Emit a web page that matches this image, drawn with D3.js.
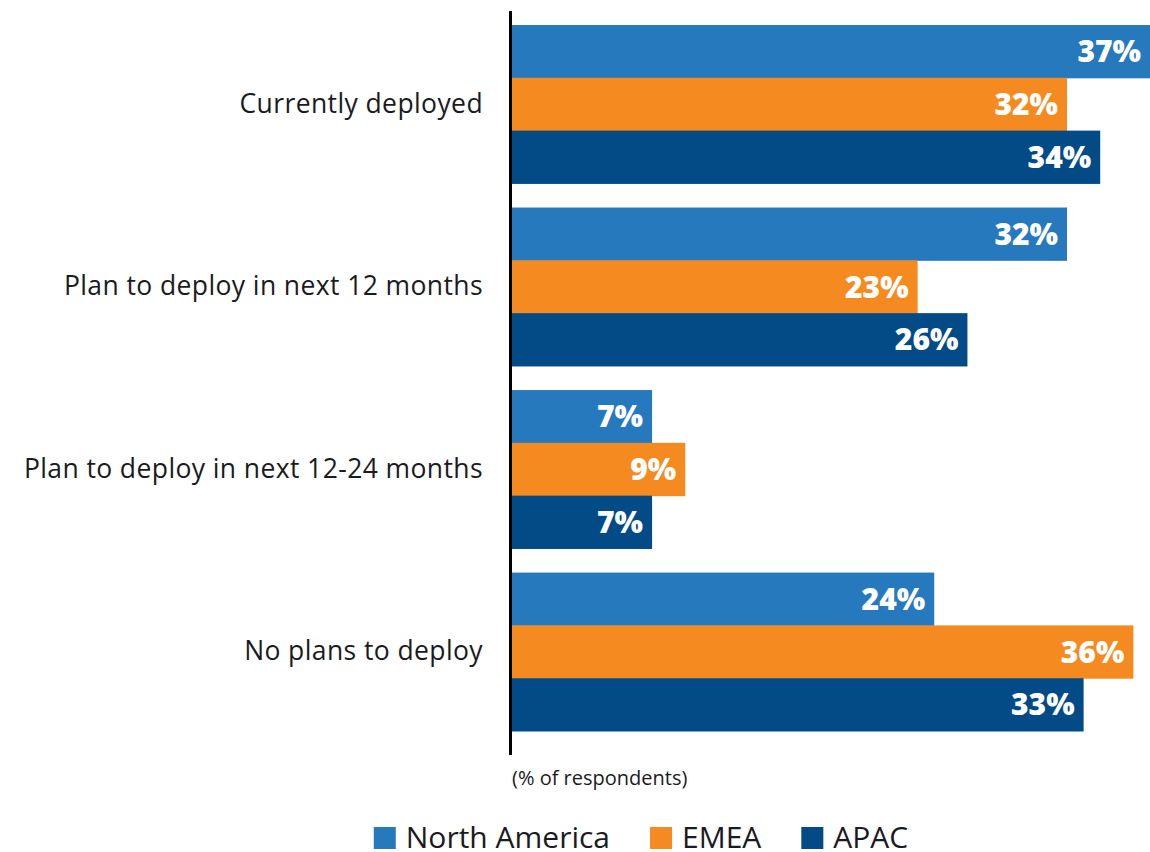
<!DOCTYPE html>
<html>
<head>
<meta charset="utf-8">
<script src="https://cdn.jsdelivr.net/npm/d3@7"></script>
<style>
  body { margin: 0; background: #fff; }
  svg { display: block; font-family: "Open Sans", Lato, sans-serif; }
</style>
</head>
<body>
<div id="chart"></div>
<script>
// data
var categories = ["Currently deployed", "Plan to deploy in next 12 months", "Plan to deploy in next 12-24 months", "No plans to deploy"];
var seriesNames = ["North America", "EMEA", "APAC"];
var northAmerica = [37, 32, 7, 24];
var emea = [32, 23, 9, 36];
var apac = [34, 26, 7, 33];
var colors = ["#2779BD", "#F58B20", "#024B86"];

var svgWidth = 1150;
var svgHeight = 852;

var svg = d3.select("#chart").append("svg")
  .attr("width", svgWidth)
  .attr("height", svgHeight);

var seriesValues = [northAmerica, emea, apac];
var rows = categories.map(function(c, i) {
  return { cat: c, vals: seriesValues.map(function(s) { return s[i]; }) };
});

// scales
var yScale = d3.scaleBand()
  .domain(categories)
  .range([25, 731])
  .paddingInner(0.132)
  .paddingOuter(0);

var ySub = d3.scaleBand()
  .domain(d3.range(seriesNames.length))
  .range([0, yScale.bandwidth()]);

var xScale = d3.scaleLinear()
  .domain([-1.5, 37])
  .range([511, 1150]);

// bars
var groups = svg.selectAll(".group")
  .data(rows)
  .enter()
  .append("g")
  .attr("class", "group")
  .attr("transform", d => `translate(0, ${yScale(d.cat)})`);

groups.selectAll("rect")
  .data(d => d.vals)
  .enter()
  .append("rect")
  .attr("x", xScale(-1.5))
  .attr("y", (d, i) => ySub(i))
  .attr("width", d => xScale(d) - xScale(-1.5))
  .attr("height", ySub.bandwidth() + 0.5)
  .attr("fill", (d, i) => colors[i]);

groups.selectAll(".val")
  .data(d => d.vals)
  .enter()
  .append("text")
  .attr("class", "val")
  .attr("x", d => xScale(d) - 9)
  .attr("y", (d, i) => ySub(i) + ySub.bandwidth() / 2)
  .attr("dy", "0.36em")
  .attr("text-anchor", "end")
  .attr("fill", "#fff")
  .attr("font-size", "30px")
  .attr("font-weight", "800")
  .text(d => d + "%");

// category labels
var leftAxis = d3.axisLeft(yScale).tickSize(0).tickPadding(28);
var axisG = svg.append("g")
  .attr("transform", "translate(511,0)")
  .call(leftAxis);
axisG.select(".domain").remove();
axisG.selectAll("text")
  .attr("font-size", "26.5px")
  .attr("letter-spacing", "0.4px")
  .attr("font-family", "'Open Sans', Lato, sans-serif")
  .attr("fill", "#1b1b1f");

// vertical baseline
svg.append("line")
  .attr("x1", 510.5).attr("x2", 510.5)
  .attr("y1", 11).attr("y2", 755)
  .attr("stroke", "#000")
  .attr("stroke-width", 3);

// note
svg.append("text")
  .attr("x", 512)
  .attr("y", 785)
  .attr("font-size", "20px")
  .attr("fill", "#1b1b1f")
  .text("(% of respondents)");

// legend
var legend = svg.append("g");
var items = legend.selectAll(".item")
  .data(seriesNames)
  .enter()
  .append("g")
  .attr("class", "item");
items.append("rect")
  .attr("width", 22).attr("height", 22)
  .attr("y", 827)
  .attr("fill", (d, i) => colors[i]);
items.append("text")
  .attr("x", 32)
  .attr("y", 848)
  .attr("font-size", "30px")
  .attr("fill", "#1b1b1f")
  .text(d => d);

var gap = 40;
var xPos = 0;
items.each(function() {
  var w = d3.select(this).select("text").node().getComputedTextLength() + 32;
  d3.select(this).attr("transform", `translate(${xPos},0)`);
  xPos += w + gap;
});
var totalW = xPos - gap;
legend.attr("transform", `translate(${641 - totalW / 2},0)`);
</script>
</body>
</html>
